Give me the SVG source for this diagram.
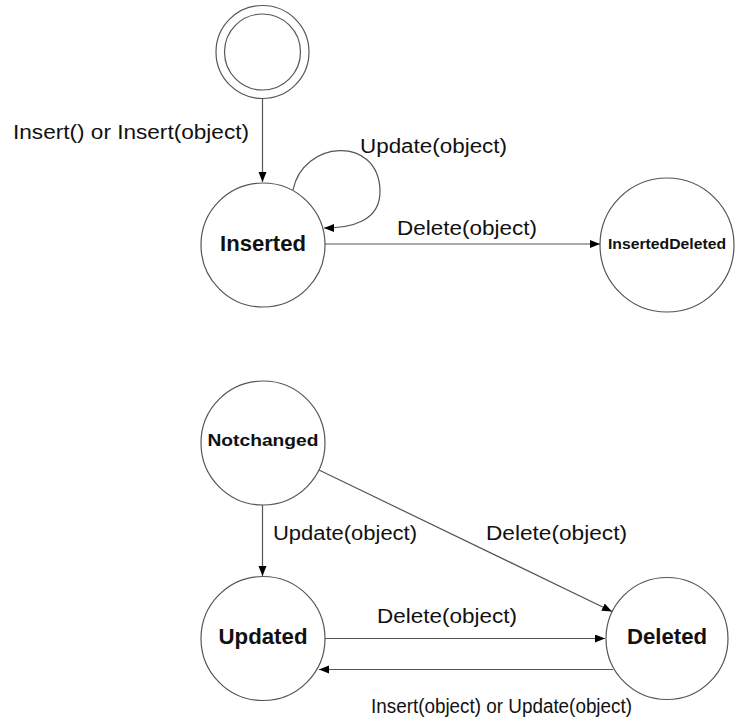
<svg xmlns="http://www.w3.org/2000/svg" width="736" height="723" viewBox="0 0 736 723">
  <style>
    .state { fill: #ffffff; stroke: #555555; stroke-width: 1.2; }
    .edge { fill: none; stroke: #555555; stroke-width: 1.2; }
    .name { font-family: "Liberation Sans", Arial, sans-serif; font-weight: bold; fill: #111111; text-anchor: middle; }
    .label { font-family: "Liberation Sans", Arial, sans-serif; font-size: 20px; fill: #111111; }
  </style>
  <defs>
    <marker id="arrow" markerUnits="userSpaceOnUse" markerWidth="11" markerHeight="9" refX="10" refY="4" orient="auto">
      <path d="M0,0 L10,4 L0,8 z" fill="#000000"/>
    </marker>
  </defs>
  <rect width="736" height="723" fill="#ffffff"/>

  <!-- transitions -->
  <g id="connectors">
    <line class="edge" x1="262.5" y1="99" x2="262.5" y2="182" marker-end="url(#arrow)"/>
    <path class="edge" d="M293,190 C303,140 378,135 380,190 C381,222 350,228 324,228" marker-end="url(#arrow)"/>
    <line class="edge" x1="325" y1="244" x2="600" y2="244" marker-end="url(#arrow)"/>
    <line class="edge" x1="262.5" y1="505" x2="262.5" y2="576" marker-end="url(#arrow)"/>
    <line class="edge" x1="319" y1="470" x2="612" y2="611.5" marker-end="url(#arrow)"/>
    <line class="edge" x1="325" y1="638.5" x2="605" y2="638.5" marker-end="url(#arrow)"/>
    <line class="edge" x1="613" y1="669.5" x2="319" y2="669.5" marker-end="url(#arrow)"/>

    <text class="label" x="13" y="139" textLength="236" lengthAdjust="spacingAndGlyphs">Insert() or Insert(object)</text>
    <text class="label" x="360" y="153" textLength="147" lengthAdjust="spacingAndGlyphs">Update(object)</text>
    <text class="label" x="397" y="235" textLength="140" lengthAdjust="spacingAndGlyphs">Delete(object)</text>
    <text class="label" x="273" y="540" textLength="144" lengthAdjust="spacingAndGlyphs">Update(object)</text>
    <text class="label" x="486" y="540" textLength="141" lengthAdjust="spacingAndGlyphs">Delete(object)</text>
    <text class="label" x="377" y="623" textLength="140" lengthAdjust="spacingAndGlyphs">Delete(object)</text>
    <text class="label" x="371" y="713" font-size="19" textLength="261" lengthAdjust="spacingAndGlyphs">Insert(object) or Update(object)</text>
  </g>

  <!-- initial state -->
  <g id="start">
    <circle class="state" cx="262.5" cy="52" r="46.5"/>
    <circle class="state" cx="262.5" cy="52" r="38"/>
  </g>

  <g id="inserted">
    <circle class="state" cx="263" cy="245" r="62"/>
    <text class="name" x="263" y="251" font-size="22" textLength="86" lengthAdjust="spacingAndGlyphs">Inserted</text>
  </g>

  <g id="inserted-deleted">
    <circle class="state" cx="667" cy="245" r="67"/>
    <text class="name" x="667" y="249" font-size="15" textLength="118" lengthAdjust="spacingAndGlyphs">InsertedDeleted</text>
  </g>

  <g id="notchanged">
    <circle class="state" cx="263" cy="443" r="62"/>
    <text class="name" x="263" y="446" font-size="16" textLength="111" lengthAdjust="spacingAndGlyphs">Notchanged</text>
  </g>

  <g id="updated">
    <circle class="state" cx="263" cy="638.5" r="62"/>
    <text class="name" x="263" y="644" font-size="22" textLength="89" lengthAdjust="spacingAndGlyphs">Updated</text>
  </g>

  <g id="deleted">
    <circle class="state" cx="667" cy="638.5" r="61"/>
    <text class="name" x="667" y="644" font-size="22" textLength="80" lengthAdjust="spacingAndGlyphs">Deleted</text>
  </g>
</svg>
